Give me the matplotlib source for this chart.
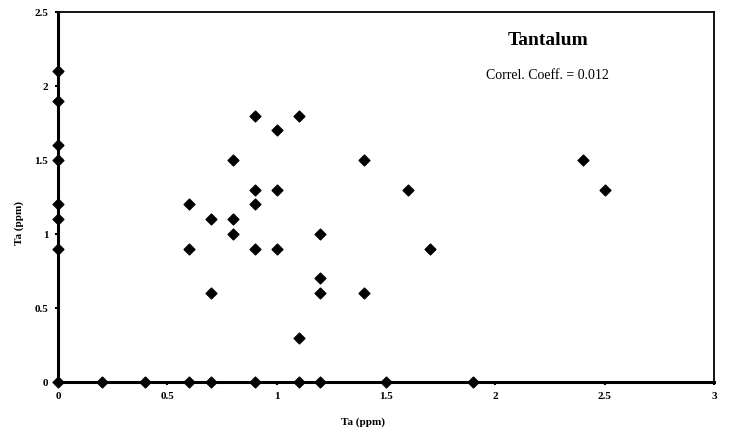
import matplotlib
matplotlib.use("Agg")
import matplotlib.pyplot as plt

# Data
x_vals = [0, 0, 0, 0, 0, 0, 0, 0,
          0.6, 0.6, 0.6,
          0.7, 0.7, 0.7,
          0.8, 0.8, 0.8,
          0.9, 0.9, 0.9, 0.9, 0.9,
          1.0, 1.0, 1.0,
          1.1, 1.1, 1.1,
          1.2, 1.2, 1.2, 1.2,
          1.4, 1.4,
          1.6, 1.7, 2.4, 2.5,
          0.2, 0.4, 1.5, 1.9]
y_vals = [2.1, 1.9, 1.6, 1.5, 1.2, 1.1, 0.9, 0,
          1.2, 0.9, 0,
          1.1, 0.6, 0,
          1.5, 1.1, 1.0,
          1.8, 1.3, 1.2, 0.9, 0,
          1.7, 1.3, 0.9,
          1.8, 0.3, 0,
          1.0, 0.7, 0.6, 0,
          1.5, 0.6,
          1.3, 0.9, 1.5, 1.3,
          0, 0, 0, 0]
x_ticks = [0, 0.5, 1, 1.5, 2, 2.5, 3]
y_ticks = [0, 0.5, 1, 1.5, 2, 2.5]
x_tick_labels = ["0", "0.5", "1", "1.5", "2", "2.5", "3"]
y_tick_labels = ["0", "0.5", "1", "1.5", "2", "2.5"]
title = "Tantalum"
note = "Correl. Coeff. = 0.012"
x_label = "Ta (ppm)"
y_label = "Ta (ppm)"

plt.rcParams['font.family'] = ['Liberation Serif', 'DejaVu Serif']

fig = plt.figure(figsize=(7.33, 4.32), dpi=100)
ax = fig.add_axes([58/733, 50/432, 656/733, 370/432])
ax.scatter(x_vals, y_vals, marker='D', s=30, color='black', zorder=3, clip_on=False)
ax.set_xlim(0, 3)
ax.set_ylim(0, 2.5)
ax.set_xticks(x_ticks)
ax.set_xticklabels(x_tick_labels, fontsize=8, fontweight='bold')
ax.set_yticks(y_ticks)
ax.set_yticklabels(y_tick_labels, fontsize=8, fontweight='bold')
ax.tick_params(axis='both', length=2, width=1.5, pad=5)
for s in ['left', 'bottom']:
    ax.spines[s].set_linewidth(2.2)
for s in ['top', 'right']:
    ax.spines[s].set_linewidth(1.3)
ax.set_xlabel(x_label, fontsize=8, fontweight='bold')
ax.set_ylabel(y_label, fontsize=8, fontweight='bold')
ax.xaxis.set_label_coords(0.465, -0.095)
ax.yaxis.set_label_coords(-0.052, 0.43)
ax.text(2.24, 2.31, title, fontsize=14, fontweight='bold', ha='center', va='center')
ax.text(2.24, 2.07, note, fontsize=10, ha='center', va='center')
fig.savefig("out.png", dpi=100)
